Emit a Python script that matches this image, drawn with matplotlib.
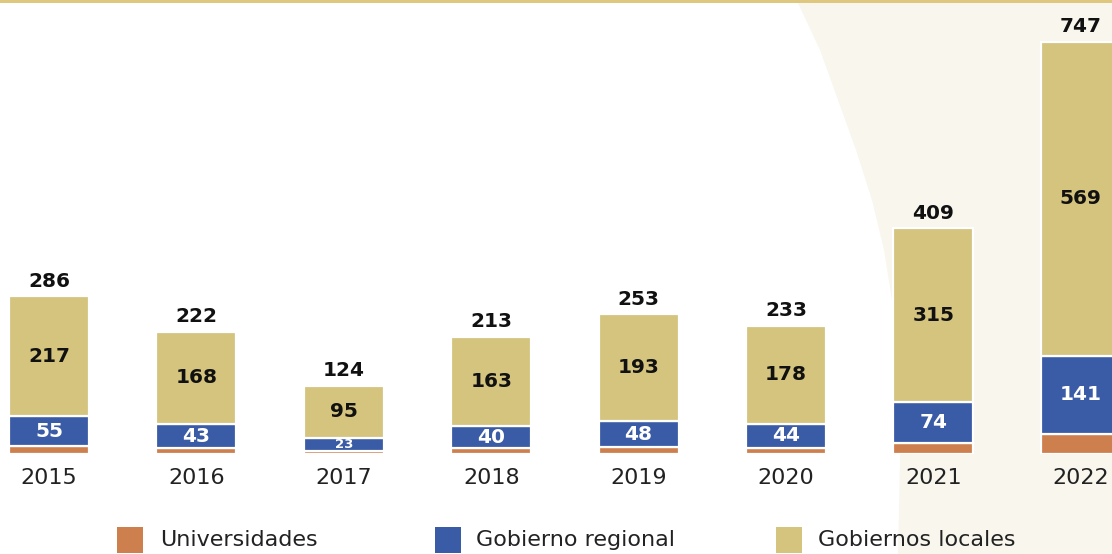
import matplotlib
matplotlib.use("Agg")
import matplotlib.pyplot as plt
from matplotlib.patches import Polygon, Rectangle
import numpy as np

years = ["2015", "2016", "2017", "2018", "2019", "2020", "2021", "2022"]
universidades = [14, 11, 6, 10, 12, 11, 20, 37]
gob_regional = [55, 43, 23, 40, 48, 44, 74, 141]
gob_locales = [217, 168, 95, 163, 193, 178, 315, 569]
totales = [286, 222, 124, 213, 253, 233, 409, 747]
series_names = ["Universidades", "Gobierno regional", "Gobiernos locales"]

c_uni = "#cd7f4e"
c_reg = "#3a5ba5"
c_loc = "#d4c47e"
cream = "#f9f6ee"

W, H = 1112, 554
fig = plt.figure(figsize=(W / 100, H / 100), dpi=100)
fig.patch.set_facecolor("white")

# cream curved background on the right
pts_px = [(798, 3), (820, 50), (838, 100), (856, 150), (872, 200), (884, 250),
          (892, 300), (897, 350), (899, 400), (900, 460), (899, 510), (898, 554),
          (1112, 554), (1112, 3)]
poly = Polygon([(x / W, 1 - y / H) for x, y in pts_px], closed=True,
               transform=fig.transFigure, facecolor=cream, edgecolor="none", zorder=-5)
fig.patches.append(poly)
# golden top line
fig.patches.append(Rectangle((0, 1 - 3 / H), 1, 3 / H, transform=fig.transFigure,
                             facecolor="#e0c77f", edgecolor="none", zorder=-4))

base_px = 454
ppu = 0.5515
ax = fig.add_axes([0, (H - base_px) / H, 1, base_px / H])
ax.set_zorder(2)
ax.set_facecolor("none")
step = 147.4
x0 = 49
ax.set_xlim(-x0 / step, (W - x0) / step)
ax.set_ylim(0, base_px / ppu)
for s in ax.spines.values():
    s.set_visible(False)
ax.set_yticks([])

x = np.arange(len(years))
bw = 80 / step
uni = np.array(universidades)
reg = np.array(gob_regional)
loc = np.array(gob_locales)
b1 = ax.bar(x, uni, bw, color=c_uni, edgecolor="white", linewidth=1.6, label=series_names[0], zorder=3)
b2 = ax.bar(x, reg, bw, bottom=uni, color=c_reg, edgecolor="white", linewidth=1.6, label=series_names[1], zorder=3)
b3 = ax.bar(x, loc, bw, bottom=uni + reg, color=c_loc, edgecolor="white", linewidth=1.6, label=series_names[2], zorder=3)

ax.set_xticks(x)
ax.set_xticklabels(years, fontsize=16, color="#222222")
ax.tick_params(axis="x", length=0, pad=10)

for i in range(len(years)):
    ax.annotate(str(totales[i]), (x[i], uni[i] + reg[i] + loc[i]), xytext=(0, 4),
                textcoords="offset points", ha="center", va="bottom",
                fontsize=14.5, fontweight="bold", color="#111111", zorder=5)
    ax.text(x[i], uni[i] + reg[i] + loc[i] / 2, str(loc[i]), ha="center", va="center",
            fontsize=14.5, fontweight="bold", color="#111111", zorder=5)
    fs = 9.5 if reg[i] < 30 else 14.5
    ax.text(x[i], uni[i] + reg[i] / 2, str(reg[i]), ha="center", va="center",
            fontsize=fs, fontweight="bold", color="white", zorder=5)

# legend (manual placement)
leg_sq_x = [117, 435, 776]
leg_tx_x = [160, 476, 818]
for bars, name, sx, tx in zip([b1, b2, b3], series_names, leg_sq_x, leg_tx_x):
    fig.patches.append(Rectangle((sx / W, 1 - 553 / H), 26 / W, 26 / H, transform=fig.transFigure,
                                 facecolor=bars.patches[0].get_facecolor(), edgecolor="none", zorder=3))
    fig.text(tx / W, 1 - 540 / H, name, ha="left", va="center", fontsize=16, color="#222222")

fig.savefig("out.png", dpi=100)
